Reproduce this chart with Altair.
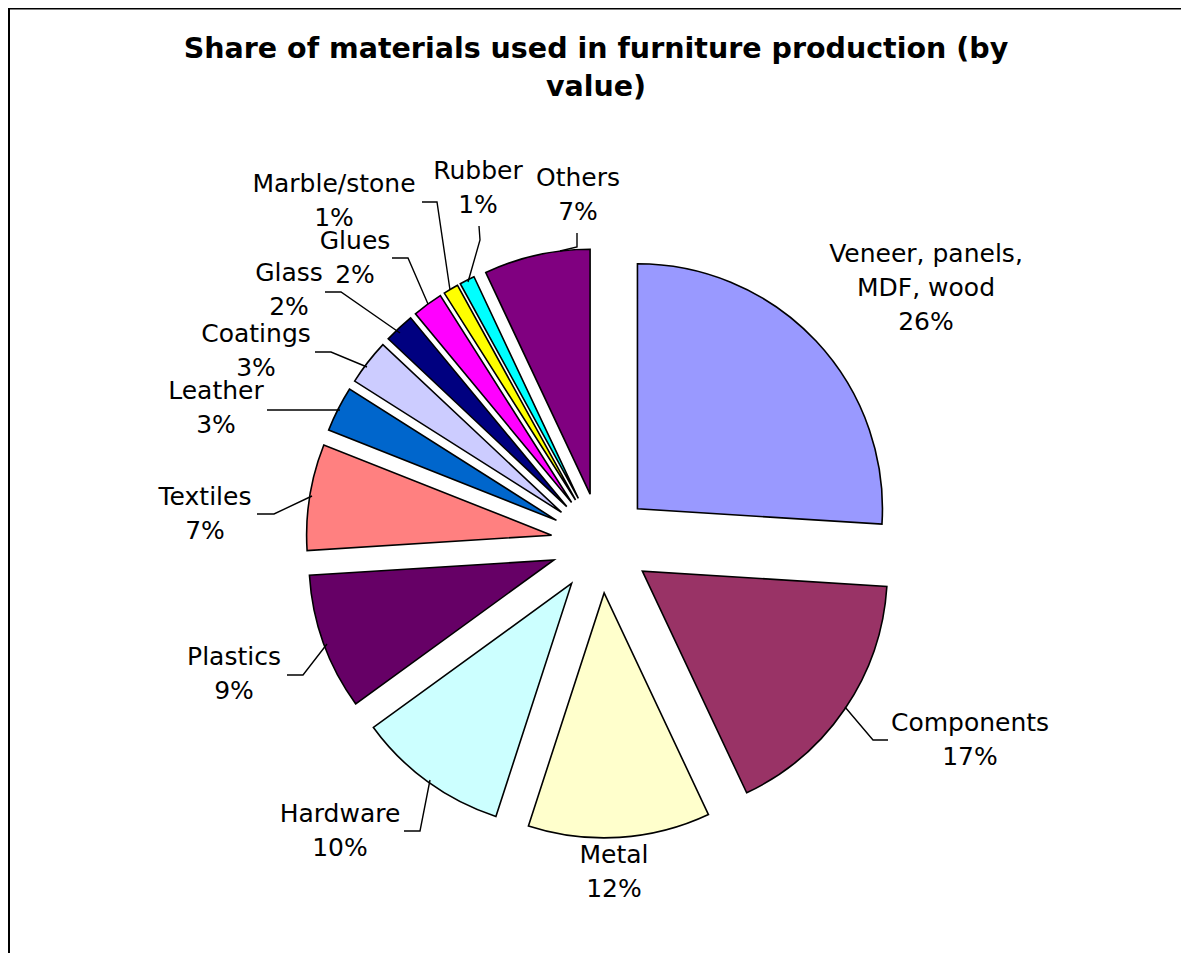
import altair as alt
import pandas as pd

# ---------------- data ----------------
materials = ["Veneer, panels, MDF, wood", "Components", "Metal", "Hardware", "Plastics",
             "Textiles", "Leather", "Coatings", "Glass", "Glues", "Marble/stone",
             "Rubber", "Others"]
label_names = ["Veneer, panels,\nMDF, wood", "Components", "Metal", "Hardware", "Plastics",
               "Textiles", "Leather", "Coatings", "Glass", "Glues", "Marble/stone",
               "Rubber", "Others"]
shares = [26, 17, 12, 10, 9, 7, 3, 3, 2, 2, 1, 1, 7]
colors = ["#9999FF", "#993366", "#FFFFCC", "#CCFFFF", "#660066", "#FF8080", "#0066CC",
          "#CCCCFF", "#000080", "#FF00FF", "#FFFF00", "#00FFFF", "#800080"]
title_lines = "Share of materials used in furniture production (by\nvalue)"

# ---------------- layout (page pixels) ----------------
OX, OY = 8, 8                 # page margin
PIE_CX, PIE_CY = 601, 543     # pie centre
EXPLODE = 50                  # slice explosion distance
RADIUS = 245
LH = 34                       # label line height
# centre of each label block
label_x = [926, 970, 614, 340, 234, 205, 216, 256, 289, 355, 334, 478, 578]
label_y = [288, 740, 872, 831, 674, 514, 408, 351, 290, 258, 201, 188, 195]
leaders = {
    "Components": [(845, 707), (873, 740), (888, 740)],
    "Hardware": [(404, 831), (420, 831), (430, 780)],
    "Plastics": [(287, 675), (303, 675), (327, 644)],
    "Textiles": [(257, 514), (274, 514), (312, 496)],
    "Leather": [(267, 410), (340, 410)],
    "Coatings": [(315, 352), (331, 352), (367, 367)],
    "Glass": [(325, 292), (341, 292), (400, 333)],
    "Glues": [(392, 258), (408, 258), (428, 304)],
    "Marble/stone": [(422, 202), (437, 202), (450, 290)],
    "Rubber": [(479, 226), (480, 240), (468, 282)],
    "Others": [(577, 233), (577, 247), (560, 251)],
}
W, H = 1173, 945
FONT = "DejaVu Sans"

# ---------------- tables ----------------
pie_df = pd.DataFrame({"material": materials, "share": shares, "idx": list(range(len(materials)))})
texts = [f"{n}\n{v}%" for n, v in zip(label_names, shares)]
lab_df = pd.DataFrame({
    "material": materials,
    "text": texts,
    "lx": [x - OX for x in label_x],
    # vega puts the first line at y: shift up by half the block
    "ly": [y - OY - (t.count("\n")) * LH / 2 for y, t in zip(label_y, texts)],
})
lead_rows = []
for name, pts in leaders.items():
    for i, (px, py) in enumerate(pts):
        lead_rows.append({"who": name, "seq": i, "px": px - OX, "py": py - OY})
lead_df = pd.DataFrame(lead_rows)

cx, cy = PIE_CX - OX, PIE_CY - OY

pie = alt.Chart(pie_df).transform_joinaggregate(
    total="sum(share)"
).transform_window(
    cum="sum(share)", sort=[alt.SortField("idx", order="ascending")], frame=[None, 0]
).transform_calculate(
    t1="2*PI*datum.cum/datum.total",
    t0="2*PI*(datum.cum - datum.share)/datum.total",
).transform_calculate(
    mid="(datum.t0 + datum.t1)/2"
).transform_calculate(
    ccx=f"{cx} + {EXPLODE}*sin(datum.mid)",
    ccy=f"{cy} - {EXPLODE}*cos(datum.mid)",
).mark_arc(radius=RADIUS, stroke="black", strokeWidth=1.6).encode(
    theta=alt.Theta("t0:Q", scale=None),
    theta2="t1:Q",
    x=alt.X("ccx:Q", scale=None, axis=None, stack=None),
    y=alt.Y("ccy:Q", scale=None, axis=None, stack=None),
    color=alt.Color("material:N", scale=alt.Scale(domain=materials, range=colors), legend=None),
)

labels = alt.Chart(lab_df).mark_text(
    font=FONT, fontSize=25, lineHeight=LH, align="center", baseline="middle",
    lineBreak="\n", color="black"
).encode(
    x=alt.X("lx:Q", scale=None, axis=None),
    y=alt.Y("ly:Q", scale=None, axis=None),
    text="text:N",
)

lead = alt.Chart(lead_df).mark_line(color="black", strokeWidth=1.4).encode(
    x=alt.X("px:Q", scale=None, axis=None),
    y=alt.Y("py:Q", scale=None, axis=None),
    detail="who:N",
    order="seq:Q",
)

one = pd.DataFrame({"t": [title_lines]})
title = alt.Chart(one).mark_text(
    font=FONT, fontSize=28.5, fontWeight="bold", lineHeight=38, align="center",
    baseline="middle", lineBreak="\n", color="black"
).encode(
    x=alt.value(596 - OX), y=alt.value(49 - OY), text="t:N"
)

frame_top = alt.Chart(one).mark_rule(color="black", strokeWidth=2).encode(
    x=alt.value(0), x2=alt.value(W), y=alt.value(0.5)
)
frame_left = alt.Chart(one).mark_rule(color="black", strokeWidth=2).encode(
    x=alt.value(1), y=alt.value(0), y2=alt.value(H)
)

chart = alt.layer(pie, lead, labels, title, frame_top, frame_left).properties(
    width=W, height=H, autosize="none", padding=0
).configure_view(stroke="transparent")

chart.save("out.html", embed_options={"renderer": "svg", "actions": False})
